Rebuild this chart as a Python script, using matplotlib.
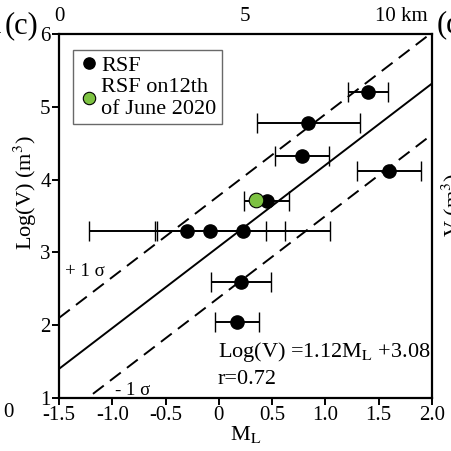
import numpy as np
import matplotlib.pyplot as plt

plt.rcParams['font.family'] = ['Liberation Serif', 'DejaVu Serif']
plt.rcParams['mathtext.fontset'] = 'stix'

# RSF events: magnitude, log volume, magnitude error
ml = [1.40, 0.84, 0.78, 1.60, 0.45, -0.30, -0.08, 0.23, 0.21, 0.17]
logv = [5.20, 4.78, 4.32, 4.12, 3.70, 3.30, 3.30, 3.30, 2.60, 2.05]
ml_err = [0.19, 0.48, 0.25, 0.30, 0.21, 0.92, 0.52, 0.81, 0.28, 0.21]

# event of 12 June 2020
ml_june = [0.35]
logv_june = [3.72]

# regression Log(V) = a*ML + b, +/- 1 sigma
slope = 1.12
intercept = 3.08
sigma = 0.70

xticks = [-1.5, -1.0, -0.5, 0, 0.5, 1.0, 1.5, 2.0]
xticklabels = ['-1.5', '-1.0', '-0.5', '0', '0.5', '1.0', '1.5', '2.0']
yticks = [1, 2, 3, 4, 5, 6]
km_ticks = [-1.5, 0.24, 1.96]
km_labels = ['0', '5', '10 km']

fig = plt.figure(figsize=(4.52, 4.51), dpi=100)
ax = fig.add_axes([0.1305, 0.1175, 0.8253, 0.8071])

xl = np.array([-1.5, 2.0])
ax.plot(xl, slope * xl + intercept, color='black', lw=1.4)
ax.plot(xl, slope * xl + intercept + sigma, color='black', lw=1.4, dashes=(7, 4))
ax.plot(xl, slope * xl + intercept - sigma, color='black', lw=1.4, dashes=(7, 4))

ax.errorbar(ml, logv, xerr=ml_err, fmt='none', ecolor='black', elinewidth=1.4,
            capsize=7.5, capthick=1.0, zorder=3)
ax.plot(ml, logv, 'o', color='black', ms=9.5, zorder=4, label='RSF')
ax.plot(ml_june, logv_june, 'o', color='#7dc242', mec='black', mew=0.8, ms=10.5,
        zorder=5, label='RSF on12th\nof June 2020')

ax.set_xlim(-1.5, 2.0)
ax.set_ylim(1, 6)
ax.set_xticks(xticks)
ax.set_xticklabels(xticklabels)
ax.set_yticks(yticks)
ax.tick_params(labelsize=15, width=1.4, length=5, direction='out', pad=1)
for s in ax.spines.values():
    s.set_linewidth(1.6)

ax.set_xlabel('M$_\\mathrm{L}$', fontsize=16, labelpad=-1)
ax.set_ylabel('Log(V) (m$^3$)', fontsize=16)
ax.yaxis.set_label_coords(-0.054, 0.563)

top = ax.secondary_xaxis('top')
top.set_xticks(km_ticks)
top.set_xticklabels(km_labels)
top.tick_params(length=0, labelsize=15, pad=6)
for lbl in top.get_xticklabels()[-1:]:
    lbl.set_horizontalalignment('right')
for s in top.spines.values():
    s.set_visible(False)

ax.text(-1.44, 2.67, '+ 1 σ', fontsize=13.5)
ax.text(-0.97, 1.04, '- 1 σ', fontsize=13.5)
ax.text(-0.01, 1.12, 'Log(V) =1.12M$_\\mathrm{L}$ +3.08\nr=0.72', fontsize=16,
        linespacing=1.45, va='bottom')

leg = ax.legend(loc='upper left', fontsize=16, frameon=True, fancybox=False,
                edgecolor='#444444', handletextpad=0.1, handlelength=0.9,
                borderpad=0.25, labelspacing=0.1, markerscale=0.85,
                borderaxespad=0, bbox_to_anchor=(0.038, 0.957))
leg.get_frame().set_linewidth(1.0)

# fragments of the neighbouring panels
fig.text(-0.033, 0.944, 'n', fontsize=22, va='center', ha='left')
fig.text(0.010, 0.944, '(c)', fontsize=22, va='center', ha='left')
fig.text(0.966, 0.944, '(d', fontsize=22, va='center', ha='left')
fig.text(0.972, 0.545, 'V (m$^3$)', fontsize=16, rotation=90, va='center', ha='left')
fig.text(0.018, 0.085, '0', fontsize=15, va='center', ha='center')

fig.savefig('out.png', dpi=100)
